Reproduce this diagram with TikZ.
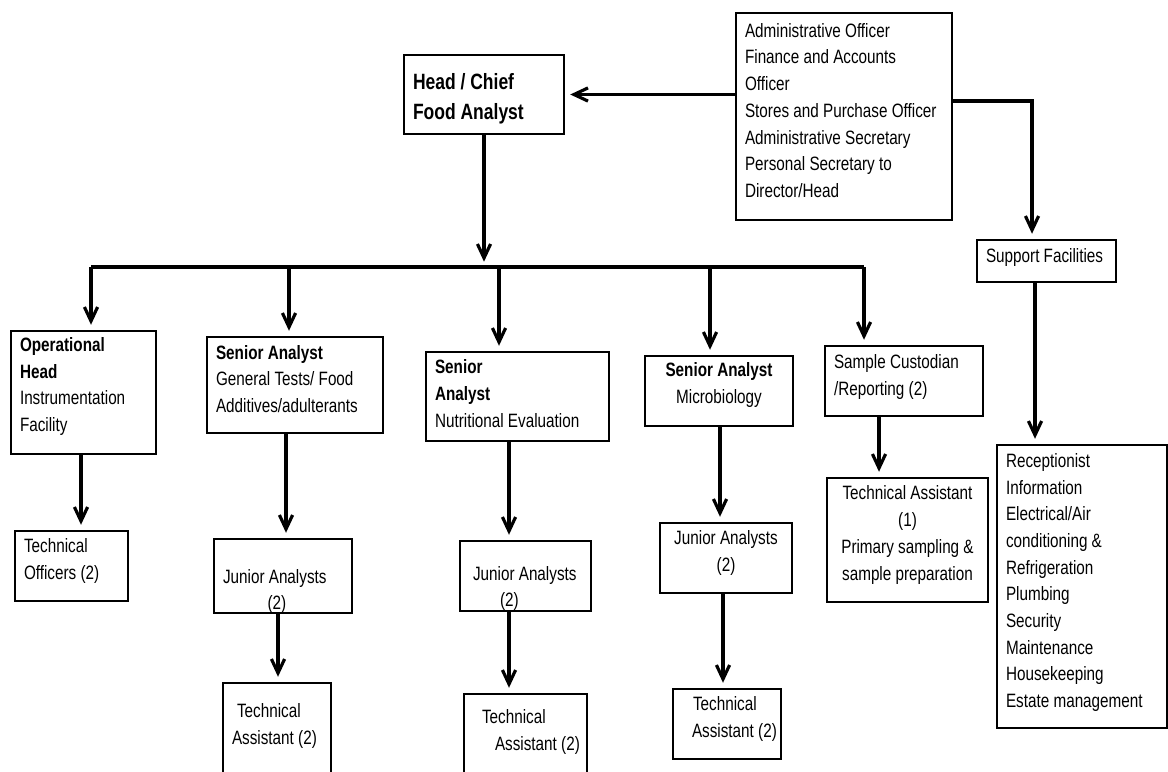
\documentclass[tikz,border=0pt]{standalone}
\usepackage{fontspec}
\setmainfont[FakeStretch=0.79]{Liberation Sans}
\usetikzlibrary{arrows.meta,calc}

\tikzset{
  box/.style={draw, line width=1.1pt, inner xsep=0.18cm, inner ysep=0pt, align=flush left,
    font=\fontsize{11}{15.2}\selectfont},
  lbox/.style={box, text width=#1},
  cbox/.style={box, text width=#1, align=flush center},
  lift/.style={execute at end node={\par\vspace*{#1}}},
  arr/.style={line width=1.8pt, -{Straight Barb[length=8pt,width=7.5pt]}, shorten >=3pt},
  bar/.style={line width=1.8pt},
}

\begin{document}
\begin{tikzpicture}[x=0.02cm, y=-0.02cm]
      \clip (0,0) rectangle (1168,771);

      % top row
      \node[lbox=2.84cm, minimum height=1.58cm, lift=-0.16cm, font=\fontsize{12.6}{17}\selectfont\bfseries] (head) at (484,94.5) {Head / Chief\\Food Analyst};
      \node[lbox=3.96cm, minimum height=4.14cm, lift=0.24cm] (adm) at (844,116.5) {Administrative Officer\\Finance and Accounts\\Officer\\Stores and Purchase Officer\\Administrative Secretary\\Personal Secretary to\\Director/Head};
      \node[lbox=2.42cm, minimum height=0.84cm, lift=0.16cm] (sup) at (1046.5,261) {Support Facilities};
      \node[lbox=3.04cm, minimum height=5.66cm, lift=0.16cm] (rec) at (1082,586.5) {Receptionist\\Information\\Electrical/Air\\conditioning \&\\Refrigeration\\Plumbing\\Security\\Maintenance\\Housekeeping\\Estate management};

      % senior level
      \node[lbox=2.54cm, minimum height=2.46cm, lift=0.24cm] (op) at (83.5,392.5) {\textbf{Operational}\\\textbf{Head}\\Instrumentation\\Facility};
      \node[lbox=3.16cm, minimum height=1.92cm, lift=0.24cm] (sa1) at (295,385) {\textbf{Senior Analyst}\\General Tests/ Food\\Additives/adulterants};
      \node[lbox=3.30cm, minimum height=1.78cm, lift=0.12cm] (sa2) at (517.5,396.5) {\textbf{Senior}\\\textbf{Analyst}\\Nutritional Evaluation};
      \node[cbox=2.60cm, minimum height=1.40cm, lift=0.24cm] (sa3) at (719,391) {\textbf{Senior Analyst}\\Microbiology};
      \node[lbox=2.80cm, minimum height=1.40cm, lift=0.16cm] (sc) at (904,381) {Sample Custodian\\/Reporting (2)};

      % junior level
      \node[lbox=1.90cm, minimum height=1.40cm, lift=0.2cm] (to) at (71.5,566) {Technical\\Officers (2)};
      \node[lbox=2.40cm, minimum height=1.48cm, lift=-0.68cm] (ja1) at (283,576) {Junior Analysts\\\hspace*{0.89cm}(2)};
      \node[lbox=2.26cm, minimum height=1.40cm, lift=-0.5cm] (ja2) at (525.5,576) {\hspace*{0.08cm}Junior Analysts\\\hspace*{0.62cm}(2)};
      \node[cbox=2.28cm, minimum height=1.40cm, lift=0.2cm] (ja3) at (726,558) {Junior Analysts\\(2)};
      \node[cbox=2.86cm, minimum height=2.48cm, lift=0.2cm] (ta4) at (907.5,540) {Technical Assistant\\(1)\\Primary sampling \&\\sample preparation};

      % bottom level
      \node[lbox=1.80cm, minimum height=1.88cm, lift=0.16cm] (ta1) at (277,730) {\hspace*{0.1cm}Technical\\\mbox{Assistant (2)}};
      \node[lbox=2.10cm, minimum height=1.64cm, lift=0.12cm] (ta2) at (525.5,735) {\hspace*{0.18cm}Technical\\\mbox{\hspace{0.44cm}Assistant (2)}};
      \node[lbox=1.80cm, minimum height=1.40cm, lift=0.2cm] (ta3) at (727,724) {\hspace*{0.22cm}Technical\\\mbox{\hspace{0.2cm}Assistant (2)}};

      \coordinate (barL) at (91,267);
      \coordinate (barR) at (864,267);

      \draw[arr] (adm.west |- head.east) -- (head.east);
      \draw[arr] (adm.east |- 0,101) -| (sup.north -| 1032,0);
      \draw[arr] (head.south) -- (head.south |- barL);
      \draw[bar] (barL) -- (barR);

      \foreach \x/\n in {91/op, 289/sa1, 499/sa2, 710/sa3, 864/sc}
        \draw[arr] (barL -| \x,0) -- (\n.north -| \x,0);

      \foreach \a/\b/\x in {op/to/81, sa1/ja1/286, ja1/ta1/278, sa2/ja2/509, ja2/ta2/509,
                            sa3/ja3/720, ja3/ta3/723, sc/ta4/879, sup/rec/1035}
        \draw[arr] (\a.south -| \x,0) -- (\b.north -| \x,0);
\end{tikzpicture}
\end{document}
